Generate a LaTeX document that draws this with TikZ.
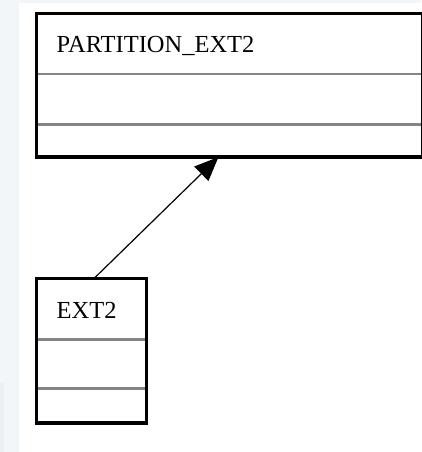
\documentclass[tikz,border=0pt]{standalone}
\usepackage{fontspec}
\setmainfont{Liberation Serif}
\usetikzlibrary{arrows.meta}

\definecolor{pagebg}{HTML}{F3F6F9}
\definecolor{pageedge}{HTML}{ECEFF3}
\definecolor{rulegray}{HTML}{858585}

\tikzset{
  classbox/.style={draw=black, line width=3.5pt, fill=white, inner sep=0pt,
    outer sep=0pt, anchor=north west},
  classname/.style={anchor=base west, inner sep=0pt,
    font=\fontsize{24.5}{28}\selectfont},
  compartment/.style={draw=rulegray, line width=2.5pt},
  inherits/.style={line width=1.2pt, -{Triangle[length=24pt,width=20pt]}},
}

\begin{document}
\begin{tikzpicture}[x=1pt,y=-1pt]

% page
\useasboundingbox (0,0) rectangle (421,452);
\fill[pagebg] (0,0) rectangle (421,452);
\fill[white] (19,3) rectangle (421,452);
\fill[pageedge] (0,383) rectangle (4,452);

% parent class
\node[classbox, minimum width=386pt, minimum height=143.5pt] (partext) at (36.5,13.5) {};
\node[classname] (partitle) at ([xshift=20pt,yshift=-39pt]partext.north west) {PARTITION\_EXT2};
\draw[compartment] ([xshift=1.5pt,yshift=-60.5pt]partext.north west) -- ([xshift=-1.5pt,yshift=-60.5pt]partext.north east);
\draw[compartment] ([xshift=1.5pt,yshift=-111pt]partext.north west) -- ([xshift=-1.5pt,yshift=-111pt]partext.north east);

% child class
\node[classbox, minimum width=110pt, minimum height=144.5pt] (ext) at (36.5,278.5) {};
\node[classname] (exttitle) at ([xshift=20pt,yshift=-39.5pt]ext.north west) {EXT2};
\draw[compartment] ([xshift=1.5pt,yshift=-61pt]ext.north west) -- ([xshift=-1.5pt,yshift=-61pt]ext.north east);
\draw[compartment] ([xshift=1.5pt,yshift=-110pt]ext.north west) -- ([xshift=-1.5pt,yshift=-110pt]ext.north east);

% generalisation
\draw[inherits] ([xshift=2.5pt]ext.north) -- ([xshift=-11pt]partext.south);

\end{tikzpicture}
\end{document}
